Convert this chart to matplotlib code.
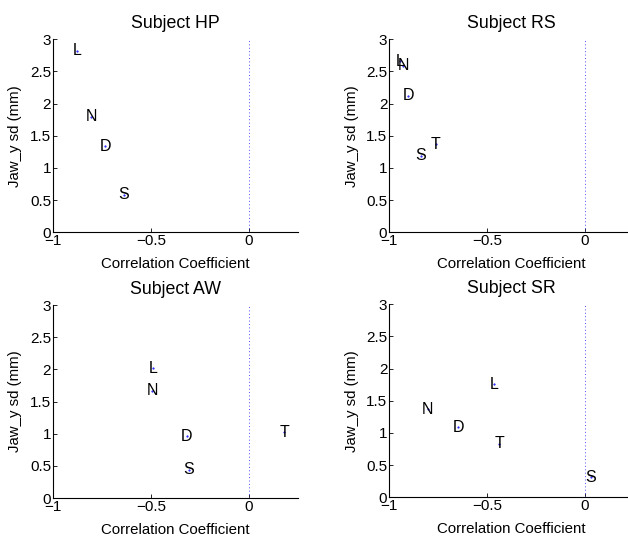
import matplotlib
matplotlib.use('Agg')
import matplotlib.pyplot as plt

plt.rcParams['font.family'] = ['Liberation Sans', 'DejaVu Sans']

# data: phoneme label, correlation, jaw_y sd
subjects = ['HP', 'RS', 'AW', 'SR']

hp_labels = ['L', 'N', 'D', 'S']
hp_corr = [-0.877, -0.807, -0.734, -0.640]
hp_sd = [2.82, 1.80, 1.34, 0.58]

rs_labels = ['L', 'N', 'D', 'S', 'T']
rs_corr = [-0.945, -0.928, -0.903, -0.840, -0.763]
rs_sd = [2.66, 2.59, 2.12, 1.19, 1.37]

aw_labels = ['L', 'N', 'D', 'S', 'T']
aw_corr = [-0.489, -0.496, -0.318, -0.307, 0.179]
aw_sd = [2.02, 1.67, 0.96, 0.44, 1.02]

sr_labels = ['L', 'N', 'D', 'T', 'S']
sr_corr = [-0.465, -0.804, -0.649, -0.438, 0.031]
sr_sd = [1.76, 1.37, 1.09, 0.83, 0.31]

data = [(hp_labels, hp_corr, hp_sd), (rs_labels, rs_corr, rs_sd),
        (aw_labels, aw_corr, aw_sd), (sr_labels, sr_corr, sr_sd)]

fig = plt.figure(figsize=(6.28, 5.38), dpi=100)

# axes rectangles in figure fractions (left, bottom, width, height)
rects = [(0.0849, 0.5682, 0.3895, 0.3587),
         (0.6200, 0.5682, 0.3895, 0.3587),
         (0.0849, 0.0743, 0.3895, 0.3587),
         (0.6200, 0.0757, 0.3895, 0.3587)]

for name, rect, (labs, xs, ys) in zip(subjects, rects, data):
    ax = fig.add_axes(rect)
    ax.set_xlim(-1, 0.25)
    ax.set_ylim(0, 3)
    ax.spines['top'].set_visible(False)
    ax.spines['right'].set_visible(False)
    ax.set_xticks([-1, -0.5, 0])
    ax.set_xticklabels(['\u22121', '\u22120.5', '0'])
    ax.set_yticks([0, 0.5, 1, 1.5, 2, 2.5, 3])
    ax.set_yticklabels(['0', '0.5', '1', '1.5', '2', '2.5', '3'])
    ax.tick_params(direction='in', length=3, width=0.6, labelsize=11, pad=1.5)
    for sp in ['left', 'bottom']:
        ax.spines[sp].set_linewidth(0.8)
    # zero-correlation reference line
    ax.plot([0, 0], [0, 3], color='#5050ff', linewidth=0.7, dashes=(1, 2.5))
    ax.plot(xs, ys, '.', color='blue', markersize=1)
    for lab, x, y in zip(labs, xs, ys):
        ax.text(x, y, lab, ha='center', va='center', fontsize=11.5)
    ax.set_title('Subject ' + name, fontsize=12.8, pad=8)
    ax.set_xlabel('Correlation Coefficient', fontsize=10.8, labelpad=6.5)
    ax.set_ylabel('Jaw_y sd (mm)', fontsize=10.8, labelpad=5.5)

fig.savefig('out.png', dpi=100)
